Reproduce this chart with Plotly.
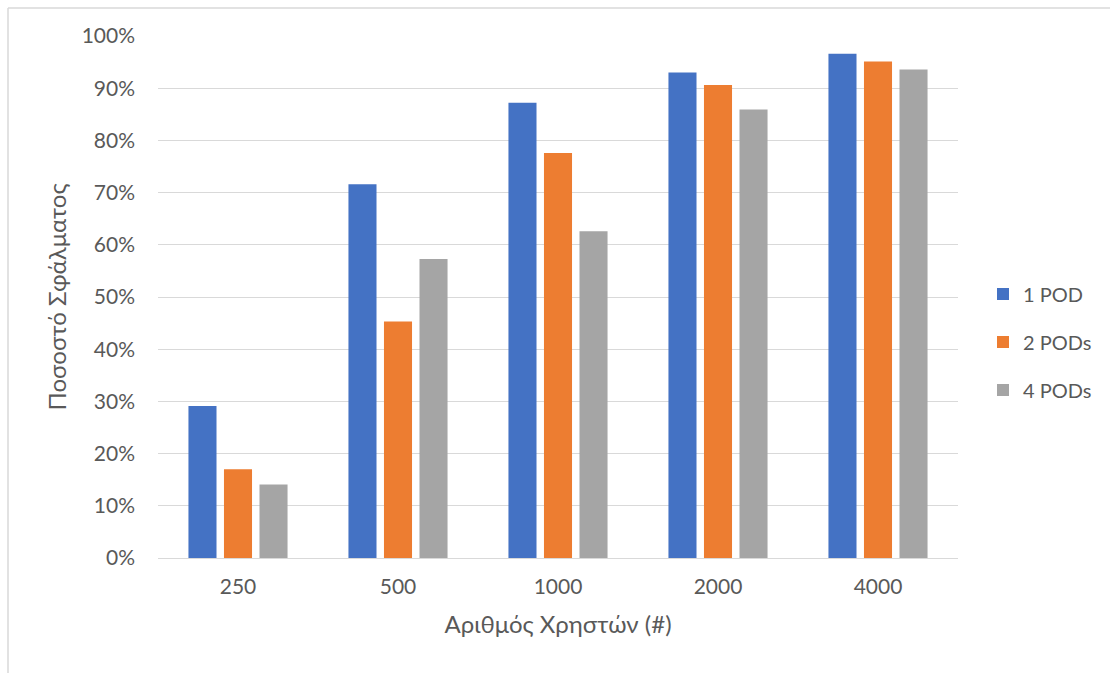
import plotly.graph_objects as go

categories = ["250", "500", "1000", "2000", "4000"]
pod1 = [29.1, 71.6, 87.2, 93.0, 96.6]
pod2 = [17.0, 45.3, 77.6, 90.6, 95.1]
pod4 = [14.1, 57.3, 62.6, 85.9, 93.6]
series_names = ["1 POD", "2 PODs", "4 PODs"]
colors = ["#4472C4", "#ED7D31", "#A5A5A5"]
ytick_vals = list(range(0, 101, 10))
ytick_text = [f"{v}%" for v in ytick_vals]

FONT = "Lato, 'Open Sans', sans-serif"
fig = go.Figure()
for name, vals, c in zip(series_names, [pod1, pod2, pod4], colors):
    fig.add_trace(go.Bar(x=categories, y=vals, name=name, marker_color=c,
                         marker_line_width=0, legendgroup=name))

L, R, T, B = 158, 958, 36, 558
W, H = 1110, 673
pw, ph = R - L, B - T

fig.update_layout(
    width=W, height=H,
    margin=dict(l=L, r=W - R, t=T, b=H - B, autoexpand=False),
    paper_bgcolor="white", plot_bgcolor="white",
    barmode="group", bargap=0.334, bargroupgap=0.21,
    font=dict(family=FONT, size=21, color="#595959"),
    showlegend=True,
    legend=dict(x=(983 - L) / pw, y=(B - 342) / ph, xanchor="left", yanchor="middle",
                font=dict(size=20, color="#595959"), tracegroupgap=19,
                itemwidth=30, traceorder="grouped", bgcolor="rgba(0,0,0,0)"),
    xaxis=dict(type="category", showgrid=False, showline=True, linecolor="#D9D9D9",
               linewidth=1, ticks="", ticklabelstandoff=10,
               title=dict(text="Αριθμός Χρηστών (#)", font=dict(size=24, color="#595959"),
                          standoff=18)),
    yaxis=dict(range=[0, 100], tickvals=ytick_vals, ticktext=ytick_text,
               showgrid=True, gridcolor="#D9D9D9", gridwidth=1, zeroline=False,
               showline=False, ticks="", ticklabelstandoff=22,
               title=dict(text="Ποσοστό Σφάλματος", font=dict(size=24, color="#595959"),
                          standoff=8)),
    shapes=[
        dict(type="line", xref="paper", yref="paper",
             x0=(8 - L) / pw, x1=(8 - L) / pw, y0=(B - 8) / ph, y1=(B - 673) / ph,
             line=dict(color="#D9D9D9", width=1.5)),
        dict(type="line", xref="paper", yref="paper",
             x0=(8 - L) / pw, x1=(1110 - L) / pw, y0=(B - 8) / ph, y1=(B - 8) / ph,
             line=dict(color="#D9D9D9", width=1.5)),
    ],
)

fig.write_html("out.html")
